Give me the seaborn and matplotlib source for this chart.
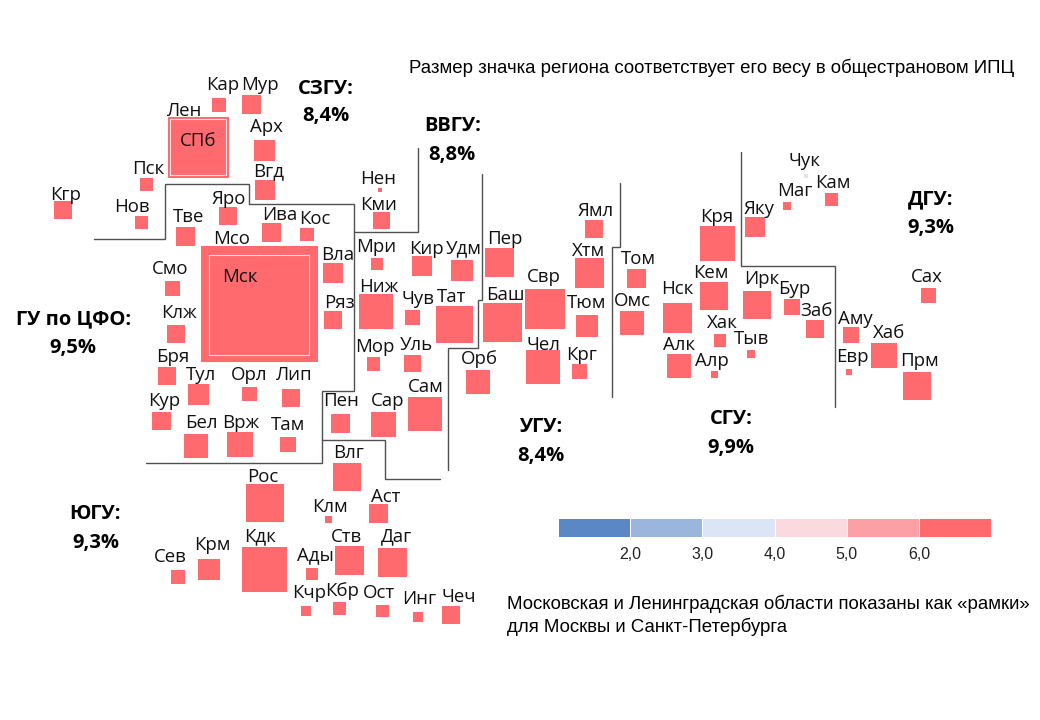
import matplotlib
matplotlib.use('Agg')
import matplotlib.pyplot as plt
from matplotlib.colors import ListedColormap
import numpy as np
import pandas as pd
import seaborn as sns

# tile map: region abbreviation, tile position, weight in the national CPI (index units), class of the scale
regions = ['Кар', 'Мур', 'Лен', 'Арх', 'Вгд', 'Пск', 'Нов', 'Кгр', 'Нен', 'Кми',
           'Тве', 'Яро', 'Ива', 'Кос', 'Мсо', 'Вла', 'Ряз', 'Смо', 'Клж', 'Бря', 'Тул', 'Орл', 'Лип', 'Кур', 'Бел', 'Врж', 'Там',
           'Мри', 'Кир', 'Удм', 'Пер', 'Ниж', 'Чув', 'Тат', 'Мор', 'Уль', 'Пен', 'Сар', 'Сам', 'Орб', 'Баш',
           'Свр', 'Чел', 'Ямл', 'Хтм', 'Тюм', 'Крг',
           'Том', 'Омс', 'Нск', 'Алк', 'Кря', 'Кем', 'Хак', 'Алр', 'Тыв', 'Ирк',
           'Чук', 'Маг', 'Кам', 'Яку', 'Бур', 'Заб', 'Аму', 'Хаб', 'Евр', 'Прм', 'Сах',
           'Влг', 'Рос', 'Клм', 'Аст', 'Кдк', 'Ств', 'Даг', 'Сев', 'Крм', 'Ады', 'Кчр', 'Кбр', 'Ост', 'Инг', 'Чеч']
tile_x = [219, 251.3, 198.5, 264.5, 265, 146.7, 141, 62.7, 380, 381.7,
          185, 227.5, 271.3, 307, 259.5, 333, 332.8, 172.7, 175.8, 167.3, 198.3, 249.3, 291, 161.3, 196, 240, 288,
          376.7, 422, 461.8, 499, 376, 412.5, 454, 373.3, 412.7, 340, 383, 425, 478, 502.3,
          545, 542.7, 594, 589.3, 587.3, 579.3,
          636.7, 631.5, 677.7, 679, 717.7, 714, 720, 714, 751, 757,
          806, 786.7, 831, 755, 792, 815, 851, 884, 849, 917, 928,
          347, 264.5, 328.8, 378.7, 264.5, 349.5, 392, 178, 209, 312, 305.7, 339.5, 382.5, 417.5, 450.8]
tile_y = [105, 104, 147.5, 150, 190, 184.5, 222.7, 209.5, 190, 220,
          236.7, 216, 232, 234.5, 304, 273, 320, 288.8, 334, 376, 394.7, 394, 398, 421, 446, 444.5, 444.3,
          264, 266, 270.5, 262.3, 311.3, 317.3, 324, 364, 363.3, 423, 424.3, 413.8, 382, 322.5,
          309, 367.3, 229.3, 273, 326, 371.5,
          278.3, 323, 318, 365.5, 243.8, 296, 340.5, 374, 353.7, 305,
          176, 206, 199, 227, 307, 328.5, 334.5, 355.5, 371.5, 386, 295,
          477, 502.5, 519.5, 513.5, 569.5, 560.5, 562.5, 577, 569.5, 574, 610.7, 608.7, 611, 616.7, 615.3]
weights = [1.96, 3.61, 37.21, 4.41, 4.00, 1.69, 1.69, 3.24, 0.12, 2.89,
           3.61, 3.24, 3.61, 1.82, 135.72, 4.00, 3.06, 2.25, 3.24, 3.24, 4.41, 2.16, 3.24, 3.42, 5.76, 6.50, 2.40,
           1.44, 4.00, 4.62, 8.41, 11.90, 2.25, 13.69, 1.82, 2.89, 3.61, 6.25, 11.56, 5.52, 14.82,
           16.00, 11.56, 3.24, 8.70, 4.84, 2.25,
           3.50, 5.76, 8.70, 5.76, 12.04, 7.84, 1.56, 0.49, 0.64, 7.84,
           0.16, 0.64, 1.69, 4.00, 2.56, 3.24, 2.56, 6.50, 0.36, 7.84, 2.25,
           7.84, 14.44, 0.49, 3.50, 20.25, 8.12, 8.41, 1.96, 4.62, 1.44, 1.00, 1.64, 1.56, 1.00, 3.24]
classes = [6] * len(regions)
classes[regions.index('Чук')] = 3

# cities shown inside their oblast "frames"
city_names = ['СПб', 'Мск']
city_x = [198, 259]
city_y = [147, 305]
city_weights = [31.36, 100.0]

label_pos = {
    'Кар': (223, 84), 'Мур': (260, 84), 'Лен': (184.5, 109), 'СПб': (198, 140), 'Арх': (266, 125), 'Вгд': (269, 170),
    'Пск': (148, 168), 'Нов': (132, 206), 'Кгр': (65.5, 193), 'Тве': (189, 216), 'Яро': (229, 197), 'Ива': (280, 214),
    'Кос': (315, 218), 'Мсо': (232, 237), 'Мск': (240, 276), 'Смо': (170, 268), 'Клж': (179, 312), 'Бря': (173, 355),
    'Тул': (201.5, 374), 'Орл': (249, 374), 'Лип': (294, 374), 'Кур': (164, 399), 'Бел': (201, 421), 'Врж': (241, 421),
    'Там': (288, 423), 'Вла': (338, 254), 'Ряз': (339, 301), 'Нен': (378, 178), 'Кми': (379, 203), 'Мри': (376, 246),
    'Кир': (426, 248), 'Удм': (464, 247), 'Пер': (505, 238), 'Ниж': (379, 285), 'Чув': (418, 298), 'Тат': (452, 296),
    'Мор': (375, 346), 'Уль': (416, 344), 'Сам': (426, 386), 'Сар': (387.5, 399), 'Пен': (341.5, 400), 'Орб': (479, 357),
    'Баш': (505, 293), 'Свр': (544, 275), 'Чел': (543, 344), 'Ямл': (596, 209), 'Хтм': (589, 249), 'Тюм': (587, 301),
    'Крг': (582, 354), 'Том': (638, 257), 'Омс': (632.5, 300), 'Нск': (677, 288), 'Алк': (679, 344), 'Кря': (717, 216),
    'Кем': (711, 272), 'Хак': (722, 321), 'Алр': (712, 360), 'Тыв': (751.5, 338), 'Ирк': (762, 278), 'Бур': (794.5, 287),
    'Заб': (816, 309), 'Яку': (759, 207), 'Маг': (795, 190), 'Кам': (833, 181), 'Чук': (805, 159), 'Аму': (855, 317),
    'Хаб': (889, 331), 'Евр': (852, 356), 'Прм': (919, 359), 'Сах': (927, 276), 'Влг': (349, 451), 'Рос': (263, 475),
    'Клм': (330, 505), 'Аст': (386, 496), 'Ств': (346, 535), 'Даг': (396.5, 535), 'Кдк': (260.5, 535), 'Ады': (315, 554),
    'Крм': (212.5, 543), 'Сев': (170, 556), 'Кчр': (309, 591), 'Кбр': (342.5, 590), 'Ост': (378.5, 591), 'Инг': (419.5, 597),
    'Чеч': (458.5, 596),
}

# federal districts: name, value, label centre
districts = ['СЗГУ:', 'ВВГУ:', 'ГУ по ЦФО:', 'ЮГУ:', 'УГУ:', 'СГУ:', 'ДГУ:']
district_values = ['8,4%', '8,8%', '9,5%', '9,3%', '8,4%', '9,9%', '9,3%']
district_x = [326, 453, 74, 95, 541, 731, 931]
district_y = [88, 125, 318, 513, 426, 418, 198]
value_x = [326, 452, 73, 96, 541, 731, 931]
value_y = [115, 154, 347, 542, 455, 447, 227]

# borders between the districts
borders = [
    ([94, 165, 165, 249, 249, 354, 354, 322, 322, 146], [239, 239, 184, 184, 204, 204, 391, 391, 463, 463]),
    ([322, 385, 385, 440], [440, 440, 479, 479]),
    ([354, 418, 418], [232, 232, 148]),
    ([482, 482, 478, 478, 448, 448], [174, 300, 300, 348, 348, 470]),
    ([620, 620, 612, 612], [183, 247, 247, 397]),
    ([741, 741, 835, 835], [152, 266, 266, 407]),
]

scale_levels = [1, 2, 3, 4, 5, 6]
scale_colors = ['#5B87C5', '#9AB6DC', '#DCE5F5', '#FBDADF', '#FDA0A5', '#FF6A6E']
scale_ticks = ['2,0', '3,0', '4,0', '5,0', '6,0']

LABEL_FONT = 'Open Sans'
NOTE_FONT = 'Liberation Sans'

sns.set_theme(style='white')

W = 1040
H = 720
fig = plt.figure(figsize=(W / 100, H / 100), dpi=100)
ax = fig.add_axes([0, 0, 1, 1])

df = pd.DataFrame({'x': tile_x, 'y': tile_y, 'weight': weights, 'cls': classes})
palette = dict(zip(scale_levels, scale_colors))
# weight is proportional to the square's area: 1 unit = 100 px2 = 51.84 pt2 at dpi 100
max_w = 200
size_range = (0, max_w * 51.84)
sns.scatterplot(data=df, x='x', y='y', size='weight', sizes=size_range, size_norm=(0, max_w),
                hue='cls', palette=palette, marker='s', linewidth=0, legend=False, ax=ax, zorder=2)

df_city = pd.DataFrame({'x': city_x, 'y': city_y, 'weight': city_weights})
sns.scatterplot(data=df_city, x='x', y='y', size='weight', sizes=size_range, size_norm=(0, max_w),
                color=scale_colors[-1], marker='s', edgecolor='#FDE3E4', linewidth=0.8, legend=False, ax=ax, zorder=3)

for xs, ys in borders:
    ax.plot(xs, ys, color='#505050', lw=1.0, solid_joinstyle='miter', zorder=1)

for name, (lx, ly) in label_pos.items():
    ax.text(lx, ly + 1.5, name, ha='center', va='center', fontsize=13.4, family=LABEL_FONT, color='#111111', zorder=4)

for i, d in enumerate(districts):
    ax.text(district_x[i], district_y[i] + 1, d, ha='center', va='center', fontsize=14.5, fontweight='bold',
            family=LABEL_FONT, color='black')
    ax.text(value_x[i], value_y[i] + 1, district_values[i], ha='center', va='center', fontsize=14.5, fontweight='bold',
            family=LABEL_FONT, color='black')

ax.text(711.5, 68, 'Размер значка региона соответствует его весу в общестрановом ИПЦ', ha='center', va='center',
        fontsize=13.45, family=NOTE_FONT, color='black')
ax.text(507, 604, 'Московская и Ленинградская области показаны как «рамки»', ha='left', va='center',
        fontsize=13.45, family=NOTE_FONT, color='black')
ax.text(507, 627, 'для Москвы и Санкт-Петербурга', ha='left', va='center',
        fontsize=13.45, family=NOTE_FONT, color='black')

ax.set_xlim(0, W)
ax.set_ylim(H, 0)
ax.axis('off')

# colour scale
cax = fig.add_axes([558 / W, 1 - 537 / H, 433 / W, 19 / H])
sns.heatmap(np.array([scale_levels]), cmap=ListedColormap(scale_colors), cbar=False, linewidths=0.7, linecolor='white',
            xticklabels=False, yticklabels=False, ax=cax)
cax.set_xticks(range(1, 6))
cax.set_xticklabels(scale_ticks, fontsize=11.5, family=NOTE_FONT, color='#222222')
cax.tick_params(axis='x', length=0, pad=7)

fig.savefig('out.png', dpi=100)
